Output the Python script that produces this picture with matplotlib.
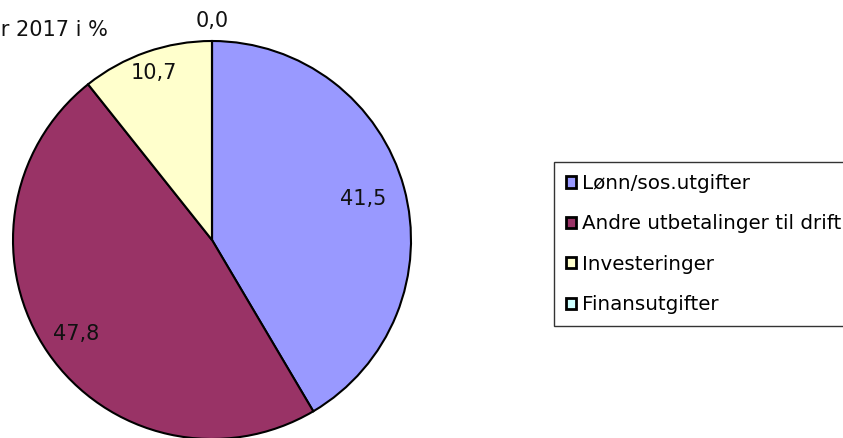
import numpy as np
import matplotlib.pyplot as plt

plt.rcParams['font.family'] = ['DejaVu Sans']

# utgifter fordelt på art, prosent
kategorier = ['Lønn/sos.utgifter', 'Andre utbetalinger til drift',
              'Investeringer', 'Finansutgifter']
andel = [41.5, 47.8, 10.7, 0.0]
farger = ['#9999FF', '#993366', '#FFFFCC', '#CCFFFF']
# hvor langt ut etikettene står (andel av radius)
etikett_r = [0.79, 0.83, 0.89, 1.1]

fig = plt.figure(figsize=(8.43, 4.38), dpi=100)
ax = fig.add_axes([13 / 843, -1 / 438, 398 / 843, 398 / 438])

wedges, _ = ax.pie(andel, colors=farger, startangle=90, counterclock=False,
                   wedgeprops=dict(edgecolor='black', linewidth=1.5))
ax.set_xlim(-1, 1)
ax.set_ylim(-1, 1)
ax.set_aspect('equal')
ax.axis('off')

for w, v, r in zip(wedges, andel, etikett_r):
    mid = np.deg2rad((w.theta1 + w.theta2) / 2)
    ax.text(r * np.cos(mid), r * np.sin(mid), f'{v:.1f}'.replace('.', ','),
            ha='center', va='center', fontsize=15, color='#111111')

fig.text(108 / 843, 1 - 30 / 438, 'år 2017 i %', ha='right', va='center',
         fontsize=15, color='#111111')

leg = fig.legend(wedges, kategorier, loc='upper left',
                 bbox_to_anchor=(554 / 843, 1 - 162 / 438),
                 fontsize=14.3, frameon=True, fancybox=False, edgecolor='black',
                 handlelength=0.5, handleheight=0.5, handletextpad=0.3,
                 labelspacing=1.08, borderpad=0.6, borderaxespad=0)
leg.get_frame().set_linewidth(1.0)
for h in leg.legend_handles:
    h.set_linewidth(2.0)

fig.savefig('out.png', dpi=100)
